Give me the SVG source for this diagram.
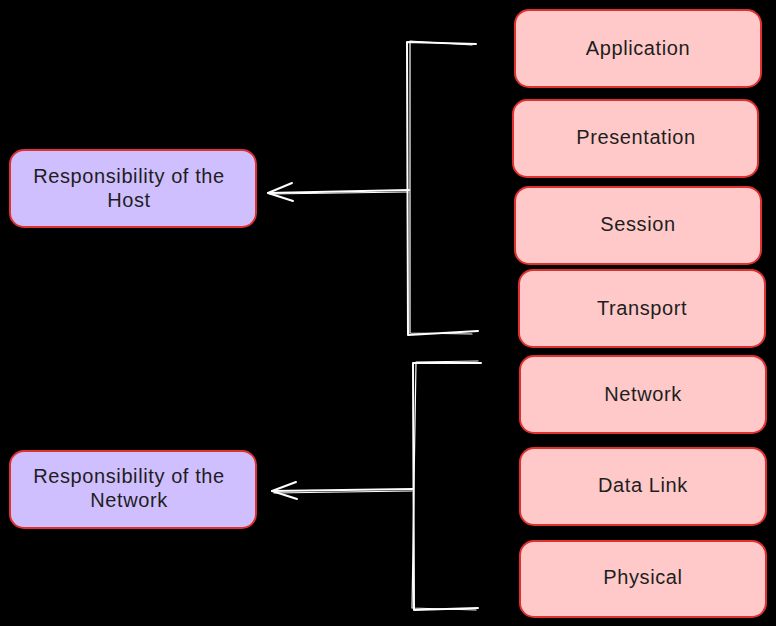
<svg xmlns="http://www.w3.org/2000/svg" width="776" height="626" viewBox="0 0 776 626">
<style>
.layer rect{fill:#ffc9c9;stroke:#e03131;stroke-width:2}
.resp rect{fill:#d0bfff;stroke:#e03131;stroke-width:2}
text{font-family:"Liberation Sans","DejaVu Sans",sans-serif;font-size:20px;letter-spacing:0.6px;fill:#1e1e1e;text-anchor:middle;dominant-baseline:central}
.ln{fill:none;stroke:#ffffff;stroke-width:2;stroke-linecap:round;stroke-linejoin:round}
.ln2{fill:none;stroke:#ffffff;stroke-width:1.2;stroke-linecap:round;stroke-linejoin:round}
</style>
<rect width="776" height="626" fill="#000000"/>
<g id="connectors">
  <path class="ln" d="M476,44 L407,42 L408,335 L478,331"/>
  <path class="ln2" d="M472,45 L410,41 L410,333 L472,334"/>
  <path class="ln" d="M409,190 L268,193"/>
  <path class="ln2" d="M408,192 L270,194"/>
  <path class="ln" d="M292,183 L268,193 L293,201"/>
  <path class="ln" d="M481,363 L413,363 L414,610 L478,608"/>
  <path class="ln2" d="M478,361 L416,362 L412,608 L476,610"/>
  <path class="ln" d="M413,489 L272,491"/>
  <path class="ln2" d="M412,491 L274,493"/>
  <path class="ln" d="M296,482 L272,491 L297,499"/>
</g>
<g id="application" class="layer"><rect x="515" y="10" width="246" height="77" rx="14"/><text x="638" y="48">Application</text></g>
<g id="presentation" class="layer"><rect x="513" y="100" width="245" height="77" rx="14"/><text x="636" y="137">Presentation</text></g>
<g id="session" class="layer"><rect x="515" y="187" width="246" height="77" rx="14"/><text x="638" y="224">Session</text></g>
<g id="transport" class="layer"><rect x="519" y="270" width="246" height="77" rx="14"/><text x="642" y="308">Transport</text></g>
<g id="network" class="layer"><rect x="520" y="356" width="246" height="77" rx="14"/><text x="643" y="394">Network</text></g>
<g id="datalink" class="layer"><rect x="520" y="448" width="246" height="77" rx="14"/><text x="643" y="485">Data Link</text></g>
<g id="physical" class="layer"><rect x="520" y="541" width="246" height="76" rx="14"/><text x="643" y="577">Physical</text></g>
<g id="host" class="resp"><rect x="10" y="150" width="246" height="77" rx="14"/><text x="129" y="176">Responsibility of the</text><text x="129" y="200">Host</text></g>
<g id="networkresp" class="resp"><rect x="10" y="451" width="246" height="77" rx="14"/><text x="129" y="476">Responsibility of the</text><text x="129" y="500">Network</text></g>
</svg>
